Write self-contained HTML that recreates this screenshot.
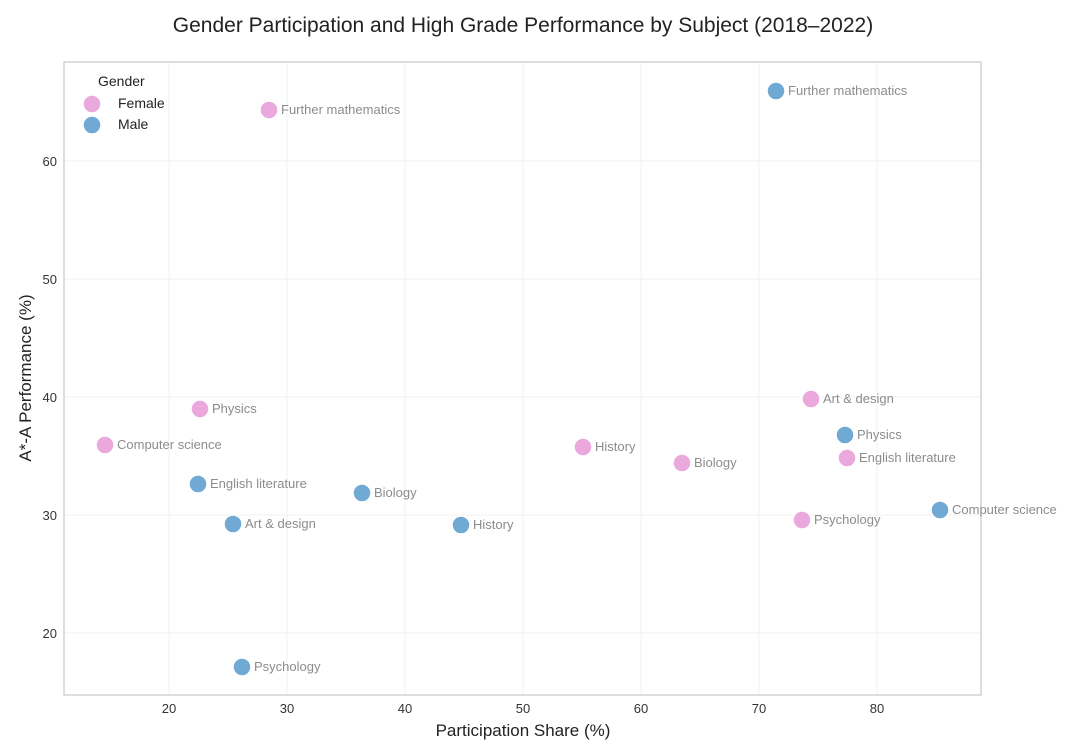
<!DOCTYPE html>
<html><head><meta charset="utf-8"><style>
body{margin:0;background:#fff;}
svg{display:block;font-family:"Liberation Sans",sans-serif;}
</style></head><body>
<svg width="1080" height="756" xmlns="http://www.w3.org/2000/svg">
<rect width="1080" height="756" fill="#fff"/>
<text x="523" y="32" font-size="21" text-anchor="middle" fill="#222">Gender Participation and High Grade Performance by Subject (2018–2022)</text>
<g stroke="#f0f0f0" stroke-width="1">
<line x1="169" y1="62" x2="169" y2="695"/><line x1="287" y1="62" x2="287" y2="695"/><line x1="405" y1="62" x2="405" y2="695"/><line x1="523" y1="62" x2="523" y2="695"/><line x1="641" y1="62" x2="641" y2="695"/><line x1="759" y1="62" x2="759" y2="695"/><line x1="877" y1="62" x2="877" y2="695"/>
<line x1="64" y1="161" x2="981" y2="161"/><line x1="64" y1="279" x2="981" y2="279"/><line x1="64" y1="397" x2="981" y2="397"/><line x1="64" y1="515" x2="981" y2="515"/><line x1="64" y1="633" x2="981" y2="633"/>
</g>
<rect x="64" y="62" width="917" height="633" fill="none" stroke="#c8c8c8" stroke-width="1.2"/>
<g font-size="13" fill="#333" text-anchor="middle">
<text x="169" y="713">20</text><text x="287" y="713">30</text><text x="405" y="713">40</text><text x="523" y="713">50</text><text x="641" y="713">60</text><text x="759" y="713">70</text><text x="877" y="713">80</text>
</g>
<g font-size="13" fill="#333" text-anchor="end">
<text x="57" y="166">60</text><text x="57" y="284">50</text><text x="57" y="402">40</text><text x="57" y="520">30</text><text x="57" y="638">20</text>
</g>
<text x="523" y="736" font-size="17" text-anchor="middle" fill="#222">Participation Share (%)</text>
<text transform="translate(31,378) rotate(-90)" font-size="17" text-anchor="middle" fill="#222">A*-A Performance (%)</text>
<g stroke="#fff" stroke-width="1.5">
<g fill="#eaa8dd">
<circle cx="269" cy="110" r="9"/><circle cx="200" cy="409" r="9"/><circle cx="105" cy="445" r="9"/><circle cx="583" cy="447" r="9"/><circle cx="682" cy="463" r="9"/><circle cx="811" cy="399" r="9"/><circle cx="847" cy="458" r="9"/><circle cx="802" cy="520" r="9"/>
</g>
<g fill="#70a9d3">
<circle cx="776" cy="91" r="9"/><circle cx="845" cy="435" r="9"/><circle cx="940" cy="510" r="9"/><circle cx="198" cy="484" r="9"/><circle cx="362" cy="493" r="9"/><circle cx="233" cy="524" r="9"/><circle cx="461" cy="525" r="9"/><circle cx="242" cy="667" r="9"/>
</g>
<circle cx="92" cy="104" r="9" fill="#eaa8dd"/><circle cx="92" cy="125" r="9" fill="#70a9d3"/>
</g>
<g font-size="13" fill="#8c8c8c">
<text x="281" y="114">Further mathematics</text><text x="212" y="413">Physics</text><text x="117" y="449">Computer science</text><text x="595" y="451">History</text><text x="694" y="467">Biology</text><text x="823" y="403">Art &amp; design</text><text x="859" y="462">English literature</text><text x="814" y="524">Psychology</text>
<text x="788" y="95">Further mathematics</text><text x="857" y="439">Physics</text><text x="952" y="514">Computer science</text><text x="210" y="488">English literature</text><text x="374" y="497">Biology</text><text x="245" y="528">Art &amp; design</text><text x="473" y="529">History</text><text x="254" y="671">Psychology</text>
</g>
<g font-size="14" fill="#222">
<text x="98" y="86">Gender</text><text x="118" y="108">Female</text><text x="118" y="129">Male</text>
</g>
</svg>
</body></html>
